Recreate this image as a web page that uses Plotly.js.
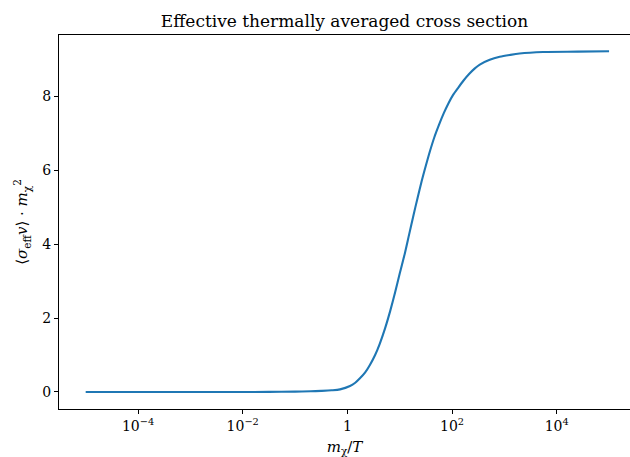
<!DOCTYPE html>
<html>
<head>
<meta charset="utf-8">
<script src="https://cdn.plot.ly/plotly-3.0.1.min.js"></script>
<style>html,body{margin:0;padding:0;background:#fff;}#chart{width:630px;height:457px;}</style>
</head>
<body>
<div id="chart"></div>
<script>
// m_chi / T
const xValues = [1e-5, 1e-4, 1e-3, 1e-2, 0.0316, 0.1, 0.2, 0.316, 0.501, 0.724, 1.122, 1.413, 1.738, 2.188, 2.692, 3.388, 4.169, 5.248, 6.607, 8.128, 10, 12.59, 15.14, 18.20, 21.88, 26.30, 31.62, 38.02, 45.71, 56.23, 69.18, 85.11, 104.7, 131.8, 166.0, 213.8, 269.2, 338.8, 524.8, 812.8, 1259, 1950, 5495, 25119, 1e5];
// <sigma_eff v> * m_chi^2
const yValues = [0.0, 0.0, 0.0, 0.0, 0.003, 0.01, 0.02, 0.03, 0.045, 0.07, 0.16, 0.25, 0.37, 0.53, 0.73, 1.0, 1.31, 1.72, 2.20, 2.68, 3.20, 3.76, 4.26, 4.76, 5.24, 5.70, 6.12, 6.52, 6.88, 7.22, 7.53, 7.80, 8.03, 8.23, 8.42, 8.60, 8.74, 8.85, 8.98, 9.06, 9.11, 9.15, 9.19, 9.20, 9.21];
const xTickVals = [1e-4, 1e-2, 1, 1e2, 1e4];
const xTickText = ["10<sup>−4</sup>", "10<sup>−2</sup>", "1", "10<sup>2</sup>", "10<sup>4</sup>"];
const yTickVals = [0, 2, 4, 6, 8];

const font = "DejaVu Serif, Liberation Serif, serif";

Plotly.newPlot("chart", [{
  x: xValues,
  y: yValues,
  type: "scatter",
  mode: "lines",
  line: {color: "#1f77b4", width: 2.1, shape: "spline", smoothing: 0.8},
  hoverinfo: "skip"
}], {
  width: 630,
  height: 457,
  margin: {l: 59, r: 0, t: 35, b: 48},
  paper_bgcolor: "#fff",
  plot_bgcolor: "#fff",
  showlegend: false,
  font: {family: font, color: "#000", size: 14},
  title: {text: "Effective thermally averaged cross section", font: {family: font, size: 17, color: "#000"}, x: 0.5, xref: "paper", xanchor: "center", y: 0.955, yref: "container", yanchor: "middle"},
  xaxis: {
    type: "log",
    range: [-5.51, 5.40],
    tickmode: "array",
    tickvals: xTickVals,
    ticktext: xTickText,
    ticks: "outside",
    ticklen: 4,
    tickwidth: 1,
    tickcolor: "#000",
    showgrid: false,
    zeroline: false,
    showline: true,
    mirror: true,
    linecolor: "#000",
    linewidth: 1.1,
    tickfont: {family: font, size: 14, color: "#000"},
    title: {text: "<i>m</i><sub>χ</sub>/<i>T</i>", font: {family: font, size: 15, color: "#000"}, standoff: 9}
  },
  yaxis: {
    range: [-0.46, 9.65],
    tickmode: "array",
    tickvals: yTickVals,
    ticktext: yTickVals.map(String),
    ticks: "outside",
    ticklen: 4,
    tickwidth: 1,
    tickcolor: "#000",
    showgrid: false,
    zeroline: false,
    showline: true,
    mirror: false,
    linecolor: "#000",
    linewidth: 1.1,
    tickfont: {family: font, size: 14, color: "#000"},
    title: {text: "⟨<i>σ</i><sub>eff</sub><i>v</i>⟩ · <i>m</i><sub>χ</sub><sup>2</sup>", font: {family: font, size: 15, color: "#000"}, standoff: 10}
  }
}, {displayModeBar: false, staticPlot: true});
</script>
</body>
</html>
